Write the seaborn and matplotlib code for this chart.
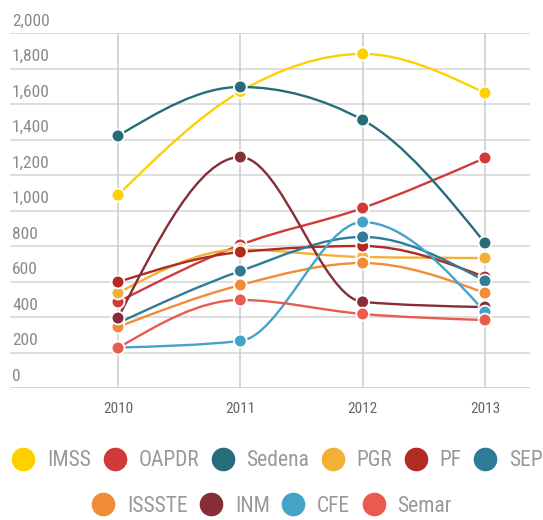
import numpy as np
import pandas as pd
import seaborn as sns
import matplotlib.pyplot as plt
from matplotlib.path import Path
from matplotlib.patches import PathPatch
from matplotlib.lines import Line2D
from matplotlib import font_manager

years = [2010, 2011, 2012, 2013]
agencies = ["IMSS", "OAPDR", "Sedena", "PGR", "PF", "SEP", "ISSSTE", "INM", "CFE", "Semar"]
imss = [1087, 1670, 1882, 1662]
oapdr = [485, 806, 1014, 1296]
sedena = [1420, 1696, 1510, 817]
pgr = [535, 780, 738, 732]
pf = [597, 766, 800, 625]
sep = [366, 659, 851, 603]
issste = [344, 580, 704, 535]
inm = [394, 1301, 485, 456]
cfe = [228, 265, 935, 428]
semar = [225, 496, 417, 383]
colors = ["#fdd000", "#d13a3a", "#286b79", "#f2b136", "#b12b20",
          "#2f7b98", "#f28b35", "#862d36", "#44a4c8", "#ea5b4f"]
ytick_vals = [0, 200, 400, 600, 800, 1000, 1200, 1400, 1600, 1800, 2000]

series = [imss, oapdr, sedena, pgr, pf, sep, issste, inm, cfe, semar]
df = pd.DataFrame([(a, y, v) for a, vals in zip(agencies, series) for y, v in zip(years, vals)],
                  columns=["agency", "year", "value"])

sns.set_style("white")

# pick a condensed face if one is around
names = {f.name for f in font_manager.fontManager.ttflist}
condensed = [n for n in ["Roboto Condensed", "Liberation Sans Narrow", "Open Sans Condensed",
                         "DejaVu Sans Condensed"] if n in names]
if condensed:
    fp = font_manager.FontProperties(family=condensed[0])
    leg_size = 15.5
else:
    fp = font_manager.FontProperties(family="DejaVu Sans", stretch="condensed")
    leg_size = 13
plt.rcParams['font.family'] = [fp.get_family()[0], 'DejaVu Sans']


def monotone_path(xs, ys):
    # d3 curveMonotoneX as cubic bezier segments
    xs = np.asarray(xs, float)
    ys = np.asarray(ys, float)
    n = len(xs)
    s = np.diff(ys) / np.diff(xs)
    t = np.zeros(n)
    for i in range(1, n - 1):
        h0, h1 = xs[i] - xs[i - 1], xs[i + 1] - xs[i]
        p = (s[i - 1] * h1 + s[i] * h0) / (h0 + h1)
        t[i] = (np.sign(s[i - 1]) + np.sign(s[i])) * min(abs(s[i - 1]), abs(s[i]), 0.5 * abs(p))
    t[0] = (3 * s[0] - t[1]) / 2
    t[-1] = (3 * s[-1] - t[-2]) / 2
    verts = [(xs[0], ys[0])]
    codes = [Path.MOVETO]
    for i in range(n - 1):
        dx = (xs[i + 1] - xs[i]) / 3
        verts += [(xs[i] + dx, ys[i] + dx * t[i]),
                  (xs[i + 1] - dx, ys[i + 1] - dx * t[i + 1]),
                  (xs[i + 1], ys[i + 1])]
        codes += [Path.CURVE4] * 3
    return Path(verts, codes)


fig = plt.figure(figsize=(5.43, 5.2), dpi=100)
ax = fig.add_axes([10 / 543, 1 - 388 / 520, 520 / 543, 355 / 520])

for name, vals, c in zip(agencies, series, colors):
    ax.add_patch(PathPatch(monotone_path(years, vals), facecolor="none",
                           edgecolor=c, lw=1.7, zorder=3))

sns.scatterplot(data=df, x="year", y="value", hue="agency", palette=colors,
                hue_order=agencies, s=85, edgecolor="white", linewidth=1.3,
                legend=False, zorder=4, ax=ax)

ax.set_xlim(2009.117, 2013.368)
ax.set_ylim(0, 2000)
for v in ytick_vals[1:]:
    ax.axhline(v, color="#d4d4d4", lw=1.1, zorder=1)
for yv in years:
    ax.axvline(yv, color="#cccccc", lw=1.1, zorder=1)
ax.axhline(0, color="#d0d0d0", lw=2, zorder=1)
for sp in ax.spines.values():
    sp.set_visible(False)

ax.set_xticks(years)
ax.set_xticklabels([str(y) for y in years], color="#666666", fontsize=11)
ax.tick_params(axis="x", length=0, pad=10)
ax.set_yticks([])
ax.set_xlabel("")
ax.set_ylabel("")
for v in ytick_vals:
    ax.text(0.004, v + 25, f"{v:,}", transform=ax.get_yaxis_transform(),
            ha="left", va="bottom", color="#8a8a8a", fontsize=12.5)

handles = [Line2D([], [], marker="o", ls="none", markersize=16, markerfacecolor=c,
                  markeredgecolor=c) for c in colors]
lp = fp.copy()
lp.set_size(leg_size)
fig.legend(handles[:6], agencies[:6], loc="center", bbox_to_anchor=(0.51, 1 - 461 / 520),
           ncol=6, frameon=False, prop=lp, labelcolor="#999999",
           handletextpad=0.55, columnspacing=0.55, handlelength=1.1)
fig.legend(handles[6:], agencies[6:], loc="center", bbox_to_anchor=(0.5, 1 - 506 / 520),
           ncol=4, frameon=False, prop=lp, labelcolor="#999999",
           handletextpad=0.55, columnspacing=0.55, handlelength=1.1)

fig.savefig("out.png", dpi=100)
